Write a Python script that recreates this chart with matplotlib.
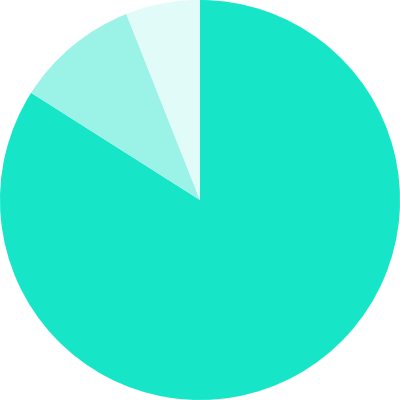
import matplotlib
matplotlib.use("Agg")
import matplotlib.pyplot as plt

labels = ['A', 'B', 'C']
values = [84, 10, 6]
colors = ['#17e5c8', '#9bf3e7', '#e0fbf8']

fig = plt.figure(figsize=(4, 4), dpi=100)
ax = fig.add_axes([0, 0, 1, 1])
ax.pie(values, colors=colors, startangle=90, counterclock=False, radius=1,
       wedgeprops={'linewidth': 0})
ax.set_xlim(-1, 1)
ax.set_ylim(-1, 1)
ax.set_aspect('equal')
ax.axis('off')

fig.savefig('out.png', dpi=100)
